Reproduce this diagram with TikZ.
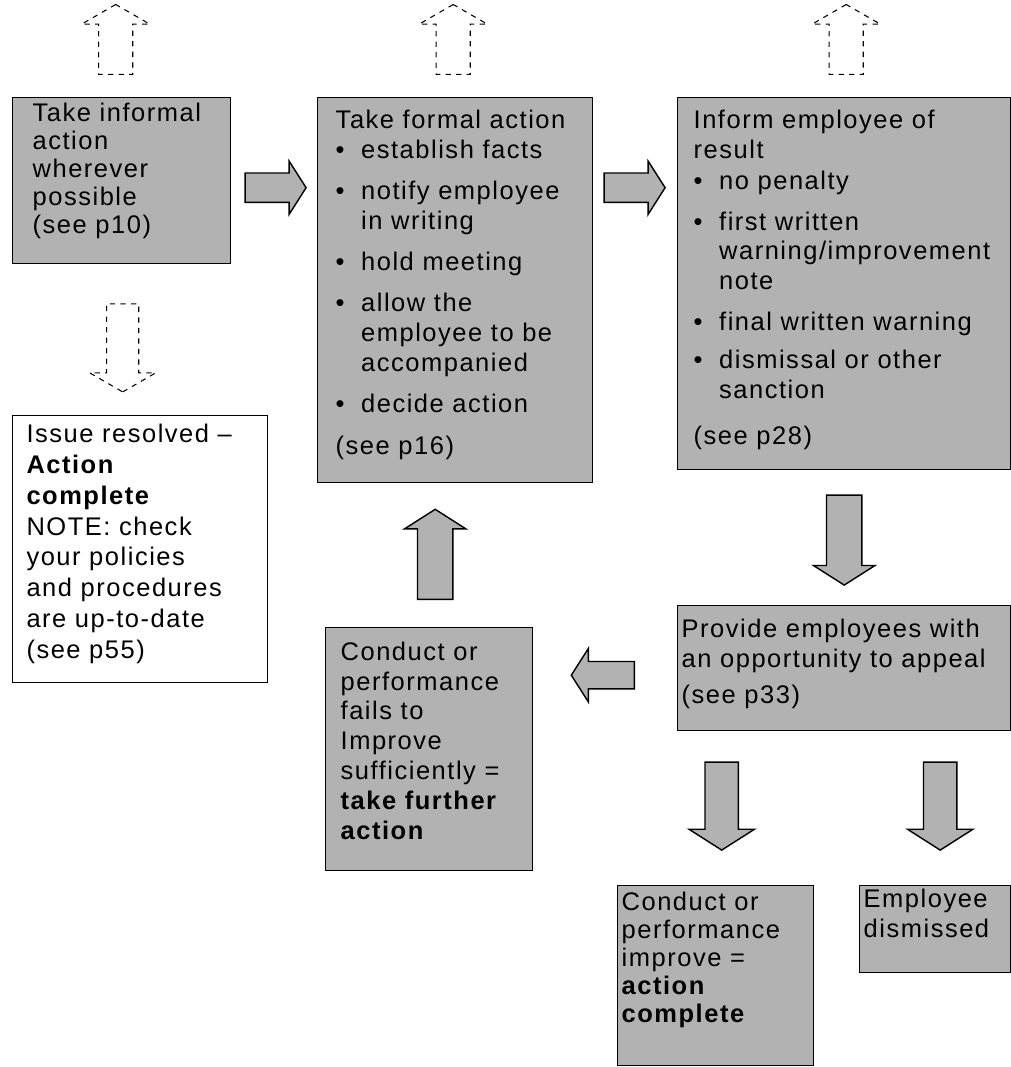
\documentclass[tikz,border=0pt]{standalone}
\usepackage{fontspec}
\setmainfont{Liberation Sans}
\newfontfamily\boxfont[LetterSpace=6]{Liberation Sans}
\usetikzlibrary{shapes.arrows,calc}

\newlength\pxu
\setlength\pxu{0.02cm}
% bullet item and its continuation lines
\newcommand\itm{\makebox[1em][l]{\textbullet}}
\newcommand\cnt{\hspace*{1em}}

\begin{document}
\begin{tikzpicture}
	[x=0.02cm, y=-0.02cm,
	box/.style={draw, line width=0.8pt, anchor=north west, inner sep=0pt,
		font=\boxfont\fontsize{14.5}{17}\selectfont},
	gbox/.style={box, fill=black!30},
	wbox/.style={box, fill=white, line width=0.6pt},
	grayarrow/.style={single arrow, draw, line width=0.8pt, fill=black!30, anchor=tail, single arrow tip angle=115},
	harrow/.style={grayarrow, inner sep=0.28cm, minimum height=1.22cm, single arrow head extend=0.24cm},
	varrow/.style={grayarrow, inner sep=0.34cm, minimum height=1.8cm, single arrow head extend=0.26cm},
	dasharrow/.style={single arrow, draw, dashed, line width=0.6pt, anchor=tail, inner sep=0.33cm, single arrow head extend=0.34cm, single arrow tip angle=120}]
	\useasboundingbox[fill=white] (0,0) rectangle (1010,1067);

	% boxes
	\node[gbox, inner xsep=20\pxu, inner ysep=5\pxu] (infA) at (12,97)
		{\parbox[t][156\pxu][t]{178\pxu}{\fontsize{14.5}{16}\selectfont
		Take informal\\action\\wherever\\possible\\(see p10)}};
	\node[gbox, inner xsep=18\pxu, inner ysep=12\pxu] (formal) at (317,97)
		{\parbox[t][361\pxu][t]{239\pxu}{Take formal action\\
		\itm establish facts\\[6.5pt]
		\itm notify employee\\\cnt in writing\\[6.5pt]
		\itm hold meeting\\[6.5pt]
		\itm allow the\\\cnt employee to be\\\cnt accompanied\\[6.5pt]
		\itm decide action\\[6.5pt]
		(see p16)}};
	\node[gbox, inner xsep=16\pxu, inner ysep=12\pxu] (result) at (677,97)
		{\parbox[t][348\pxu][t]{301\pxu}{Inform employee of\\result\\[1pt]
		\itm no penalty\\[6pt]
		\itm first written\\\cnt warning/improvement\\\cnt note\\[6pt]
		\itm final written warning\\[5pt]
		\itm dismissal or other\\\cnt sanction\\[9pt]
		(see p28)}};
	\node[wbox, inner xsep=14\pxu, inner ysep=9\pxu] (resolved) at (12,415)
		{\parbox[t][249\pxu][t]{227\pxu}{\fontsize{14.5}{17.5}\selectfont
		Issue resolved \textendash\\\textbf{Action}\\\textbf{complete}\\NOTE: check\\your policies\\and procedures\\are up-to-date\\(see p55)}};
	\node[gbox, inner xsep=4\pxu, inner ysep=13\pxu] (appeal) at (677,605)
		{\parbox[t][99\pxu][t]{325\pxu}{Provide employees with\\an opportunity to appeal\\[4pt](see p33)}};
	\node[gbox, inner xsep=15\pxu, inner ysep=14\pxu] (fails) at (325,627)
		{\parbox[t][215\pxu][t]{177\pxu}{Conduct or\\performance\\fails to\\Improve\\sufficiently =\\\textbf{take further}\\\textbf{action}}};
	\node[gbox, inner xsep=4\pxu, inner ysep=6\pxu] (improved) at (617,885)
		{\parbox[t][168\pxu][t]{188\pxu}{\fontsize{14.5}{16}\selectfont
		Conduct or\\performance\\improve =\\\textbf{action}\\\textbf{complete}}};
	\node[gbox, inner xsep=4\pxu, inner ysep=3\pxu] (dismissed) at (859,885)
		{\parbox[t][81\pxu][t]{143\pxu}{Employee\\dismissed}};

	% dashed arrows going out
	\node[dasharrow, shape border rotate=90, minimum height=1.4cm] (outA) at ($(infA.north)+(-6,-22)$) {};
	\node[dasharrow, shape border rotate=90, minimum height=1.4cm] (outB) at ($(formal.north)+(-2,-22)$) {};
	\node[dasharrow, shape border rotate=90, minimum height=1.4cm] (outC) at ($(result.north)+(2,-22)$) {};
	\node[dasharrow, inner sep=0.31cm, shape border rotate=270, minimum height=1.76cm] (toresolved) at ($(infA.south)+(1,39)$) {};

	% gray arrows between boxes
	\node[harrow] (AtoB) at ($(infA.east)+(13,7)$) {};
	\node[harrow] (BtoC) at ($(infA.east -| formal.east)+(10,7)$) {};
	\node[varrow, shape border rotate=270] (CtoE) at ($(result.south)+(0,24)$) {};
	\node[harrow, inner sep=0.26cm, minimum height=1.26cm, single arrow head extend=0.26cm, shape border rotate=180] (EtoF) at ($(appeal.west)+(-42,7)$) {};
	\node[varrow, shape border rotate=90] (FtoB) at ($(fails.north)+(6,-27)$) {};
	\node[varrow, inner sep=0.32cm, minimum height=1.76cm, single arrow head extend=0.32cm, shape border rotate=270] (EtoG) at ($(improved.north |- appeal.south)+(6,30)$) {};
	\node[varrow, inner sep=0.32cm, minimum height=1.76cm, single arrow head extend=0.32cm, shape border rotate=270] (EtoH) at ($(dismissed.north |- appeal.south)+(5,30)$) {};
\end{tikzpicture}
\end{document}
